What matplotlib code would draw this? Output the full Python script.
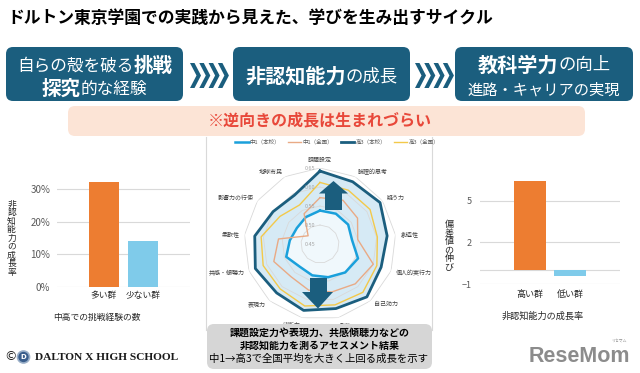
import numpy as np
import matplotlib
matplotlib.use('Agg')
import matplotlib.pyplot as plt
from matplotlib.patches import FancyBboxPatch, Polygon, Circle
from matplotlib.transforms import Affine2D
from matplotlib.lines import Line2D

plt.rcParams['font.family'] = ['Noto Sans CJK JP', 'DejaVu Sans']

# ---------------- data ----------------
title = 'ドルトン東京学園での実践から見えた、学びを生み出すサイクル'

left_cats = ['多い群', '少ない群']
left_vals = [32, 14]
left_ticks = [0, 10, 20, 30]

right_cats = ['高い群', '低い群']
right_vals = [6.4, -0.4]
right_ticks = [-1, 2, 5]

radar_labels = ['課題設定', '論理的思考', '疑う力', '創造性', '個人的実行力', '自己効力', '耐性',
                '決断力', '表現力', '共感・傾聴力', '柔軟性', '影響力の行使', '地球市民']
chu1_honko = [0.538, 0.540, 0.540, 0.535, 0.557, 0.550, 0.540, 0.535, 0.530, 0.545, 0.530, 0.524, 0.530]
chu1_zenkoku = [0.572, 0.580, 0.570, 0.550, 0.600, 0.590, 0.580, 0.575, 0.565, 0.580, 0.560, 0.488, 0.540]
ko3_honko = [0.642, 0.635, 0.642, 0.628, 0.622, 0.636, 0.625, 0.630, 0.622, 0.632, 0.623, 0.600, 0.595]
ko3_zenkoku = [0.612, 0.610, 0.610, 0.602, 0.610, 0.620, 0.615, 0.618, 0.608, 0.610, 0.606, 0.578, 0.566]
series_names = ['中1（本校）', '中1（全国）', '高3（本校）', '高3（全国）']
radar_ticks = [0.45, 0.50, 0.55, 0.60, 0.65]

# ---------------- figure ----------------
W, H = 640, 373
fig = plt.figure(figsize=(6.4, 3.73), dpi=100)
fig.patch.set_facecolor('white')
PX = Affine2D().scale(1 / W, -1 / H).translate(0, 1) + fig.transFigure
renderer = fig.canvas.get_renderer()

TEAL = '#1B5E7E'


def fx(x):
    return x / W


def fy(y):
    return 1 - y / H


def ftext(x, y, s, **kw):
    return fig.text(fx(x), fy(y), s, **kw)


def rbox(x0, y0, x1, y1, r, fc, ec='none', lw=0, z=1):
    p = FancyBboxPatch((x0, y0), x1 - x0, y1 - y0,
                       boxstyle='round,pad=0,rounding_size=%g' % r,
                       fc=fc, ec=ec, lw=lw, transform=PX, zorder=z)
    fig.add_artist(p)
    return p


def seg_line(cx, cy, segs, color='white'):
    texts, widths = [], []
    for s, w, sz in segs:
        t = fig.text(0, 0, s, fontsize=sz, fontweight=w, color=color,
                     va='center_baseline', ha='left', zorder=5)
        bb = t.get_window_extent(renderer)
        texts.append(t)
        widths.append(bb.width)
    x = cx - sum(widths) / 2
    for t, wd in zip(texts, widths):
        t.set_position((fx(x), fy(cy)))
        x += wd


# title
ftext(7, 18, title, fontsize=12.1, fontweight='bold', va='center', ha='left', color='black')

# top boxes
rbox(6, 47, 183, 101, 7, TEAL)
rbox(233, 47, 410, 101, 7, TEAL)
rbox(455, 47, 633, 101, 7, TEAL)
seg_line(94.5, 64, [('自らの殻を破る', 'normal', 12), ('挑戦', 'bold', 14)])
seg_line(94.5, 87, [('探究', 'bold', 14), ('的な経験', 'normal', 12)])
seg_line(321.5, 74, [('非認知能力', 'bold', 14.5), ('の成長', 'normal', 12.5)])
seg_line(544, 63, [('教科学力', 'bold', 14.5), ('の向上', 'normal', 12.5)])
seg_line(544, 88, [('進路・キャリアの実現', 'normal', 11)])

# chevrons
for gx in (190, 415):
    for i in range(4):
        x = gx + i * 9.3
        fig.add_artist(Polygon([(x, 63), (x + 4.5, 63), (x + 11, 75.5), (x + 4.5, 88),
                                (x, 88), (x + 6.5, 75.5)], closed=True, fc=TEAL, ec='none',
                               transform=PX, zorder=2))

# pink banner
rbox(68, 106, 585, 136, 7, '#FCE4D6')
ftext(320, 120, '※逆向きの成長は生まれづらい', fontsize=11.5, fontweight='bold',
      color='#E8483A', ha='center', va='center', zorder=5)

# ---------------- left bar chart ----------------
ax1 = fig.add_axes([fx(57), fy(287), (190 - 57) / W, (287 - 172.5) / H])
x1 = np.arange(len(left_cats))
ax1.bar(x1, left_vals, width=0.77, color=['#ED7D31', '#7FCBEA'], zorder=3)
ax1.set_xlim(-1.205, 2.205)
ax1.set_ylim(0, 35)
ax1.set_yticks(left_ticks)
ax1.set_yticklabels(['%d%%' % v for v in left_ticks])
ax1.set_xticks(x1)
ax1.set_xticklabels(left_cats)
ax1.yaxis.grid(True, color='#D9D9D9', lw=0.8)
ax1.set_axisbelow(True)
for s in ax1.spines.values():
    s.set_visible(False)
ax1.tick_params(length=0)
ax1.tick_params(axis='y', labelsize=7, labelcolor='#595959', pad=5)
ax1.tick_params(axis='x', labelsize=6.3, labelcolor='#262626', pad=3)
ax1.patch.set_alpha(0)
ftext(97, 317, '中高での挑戦経験の数', fontsize=6.3, ha='center', va='center', color='#262626')
ftext(11.5, 238, '\n'.join('非認知能力の成長率'), fontsize=6.3, ha='center', va='center',
      color='#262626', linespacing=0.93)

# ---------------- right bar chart ----------------
ax2 = fig.add_axes([fx(480), fy(284), 140 / W, (284 - 173) / H])
x2 = np.arange(len(right_cats))
ax2.bar(x2, right_vals, width=0.8, color=['#ED7D31', '#7FCBEA'], zorder=3)
ax2.set_xlim(-1.25, 2.25)
ax2.set_ylim(-1, 7)
ax2.set_yticks(right_ticks)
ax2.set_xticks(x2)
ax2.set_xticklabels(right_cats)
ax2.yaxis.grid(True, color='#D9D9D9', lw=0.8)
ax2.axhline(0, color='#D9D9D9', lw=0.8, zorder=1)
ax2.set_axisbelow(True)
for s in ax2.spines.values():
    s.set_visible(False)
ax2.tick_params(length=0)
ax2.tick_params(axis='y', labelsize=6.5, labelcolor='#595959', pad=6)
ax2.tick_params(axis='x', labelsize=6.5, labelcolor='#262626', pad=4)
ax2.patch.set_alpha(0)
ftext(543, 316, '非認知能力の成長率', fontsize=6.6, ha='center', va='center', color='#262626')
ftext(449, 246, '\n'.join('偏差値の伸び'), fontsize=6.5, ha='center', va='center',
      color='#262626', linespacing=0.93)

# ---------------- radar ----------------
fig.add_artist(Line2D([206, 206], [137, 330], color='#D9D9D9', lw=0.8, transform=PX))
fig.add_artist(Line2D([432, 432], [137, 330], color='#D9D9D9', lw=0.8, transform=PX))

cx, cy, R = 320, 244, 76
ax3 = fig.add_axes([fx(cx - R), fy(cy + R), 2 * R / W, 2 * R / H], projection='polar')
ax3.set_theta_zero_location('N')
ax3.set_theta_direction(-1)
ax3.set_ylim(radar_ticks[0], radar_ticks[-1])
ax3.grid(False)
ax3.set_xticks([])
ax3.set_yticks([])
ax3.spines['polar'].set_visible(False)
ax3.patch.set_alpha(0)

n = len(radar_labels)
theta = np.linspace(0, 2 * np.pi, n, endpoint=False)
tc = np.append(theta, theta[0])


def cl(v):
    return np.append(v, v[0])


ax3.fill(tc, cl(ko3_honko), color='#D6EAF5', zorder=1, lw=0)
ax3.fill(tc, cl(chu1_honko), color='#F0F8FC', zorder=1.1, lw=0)
for r in radar_ticks[1:]:
    ax3.plot(tc, [r] * len(tc), color='#D9D9D9', lw=0.6, zorder=1.5)

cols = ['#1AA0DB', '#E9AA85', TEAL, '#F3C94A']
lws = [1.8, 1.0, 2.0, 1.0]
data = [chu1_honko, chu1_zenkoku, ko3_honko, ko3_zenkoku]
order = [3, 1, 0, 2]
for i in order:
    ax3.plot(tc, cl(data[i]), color=cols[i], lw=lws[i], zorder=3 + i * 0.1)

for r in radar_ticks:
    ax3.annotate('%.2f' % r, xy=(0, r), xytext=(-7, 0), textcoords='offset points',
                 fontsize=4, color='#A6A6A6', ha='center', va='center', zorder=4)

rl = radar_ticks[-1] + 0.2 * 5 / R
for t, lab in zip(theta, radar_labels):
    s, c = np.sin(t), np.cos(t)
    ha = 'left' if s > 0.05 else ('right' if s < -0.05 else 'center')
    va = 'bottom' if c > 0.95 else ('top' if c < -0.9 else 'center')
    ax3.text(t, rl, lab, fontsize=4.3, color='#404040', ha=ha, va=va)

handles = [Line2D([], [], color=cols[i], lw=lws[i]) for i in range(4)]
fig.legend(handles, series_names, loc='center', bbox_to_anchor=(fx(337), fy(142)), ncol=4,
           fontsize=4, frameon=False, handlelength=2.4, columnspacing=1.4, handletextpad=0.2,
           labelcolor='#595959')

# arrows
fig.add_artist(Polygon([(325, 210), (325, 193.5), (319, 193.5), (333.5, 181), (348, 193.5),
                        (342, 193.5), (342, 210)], closed=True, fc=TEAL, ec='none',
                       transform=PX, zorder=6))
fig.add_artist(Polygon([(310, 278), (327, 278), (327, 292), (333, 292), (318, 308.5),
                        (302, 292), (310, 292)], closed=True, fc=TEAL, ec='none',
                       transform=PX, zorder=6))

# caption box
rbox(207, 324, 432, 369, 7, '#D6D6D6', z=7)
ftext(320, 333, '課題設定力や表現力、共感傾聴力などの', fontsize=7.2, fontweight='bold',
      ha='center', va='center', color='black', zorder=8)
ftext(320, 346, '非認知能力を測るアセスメント結果', fontsize=7.2, fontweight='bold',
      ha='center', va='center', color='black', zorder=8)
ftext(319, 359, '中1→高3で全国平均を大きく上回る成長を示す', fontsize=7.5,
      ha='center', va='center', color='black', zorder=8)

# footer
ftext(11, 357, '©', fontsize=9, ha='center', va='center', color='#222222', family='DejaVu Sans')
fig.add_artist(Circle((23.5, 357), 6, fc='#3A5E8C', ec='#9AAFC8', lw=1.2, transform=PX, zorder=3))
ftext(23.5, 357, 'D', fontsize=5, ha='center', va='center', color='white', fontweight='bold',
      family='DejaVu Sans', zorder=4)
ftext(35, 357.5, 'DALTON X HIGH SCHOOL', fontsize=8.2, fontweight='bold', ha='left', va='center',
      color='#1A1A1A', family='Liberation Serif')

ftext(579, 356, 'ReseMom', fontsize=15.5, fontweight='bold', ha='center', va='center',
      color='#8C8C8C', family='Liberation Sans')
ftext(619, 341, 'リセマム', fontsize=2.8, ha='center', va='center', color='#8C8C8C')

fig.savefig('out.png', dpi=100, facecolor='white')
